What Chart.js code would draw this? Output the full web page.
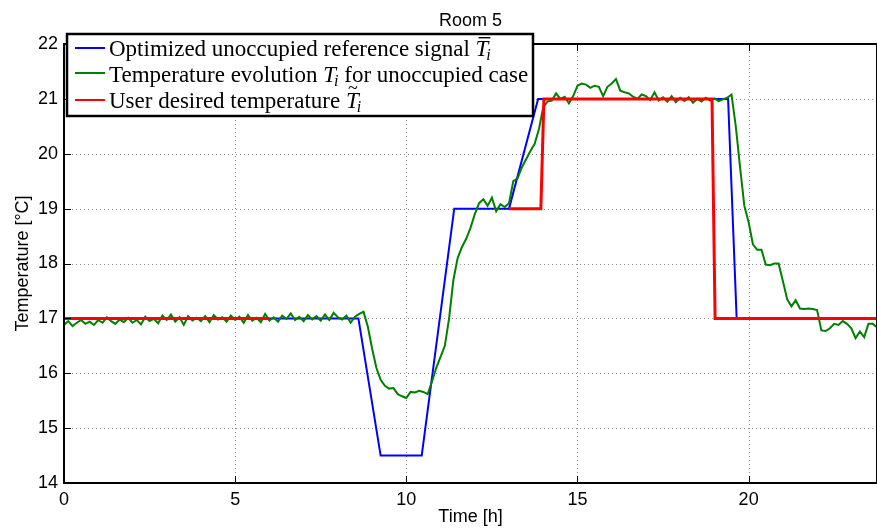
<!DOCTYPE html>
<html>
<head>
<meta charset="utf-8">
<script src="https://cdn.jsdelivr.net/npm/chart.js@4.4.0/dist/chart.umd.min.js"></script>
<style>
  html, body { margin: 0; padding: 0; background: #fff; }
</style>
</head>
<body>
<canvas id="roomChart" width="877" height="531"></canvas>
<script>
// Room 5 – temperature vs time
const timeStep = 0.125; // hours between samples of the measured curve

// measured temperature, unoccupied case (green)
const measuredTemp = [
  16.88, 16.95, 16.86, 16.92, 16.97, 16.90, 16.94, 16.88,
  16.97, 16.92, 17.02, 16.95, 16.90, 16.98, 16.93, 17.01,
  16.92, 16.97, 16.89, 17.03, 16.95, 16.99, 16.91, 17.05,
  16.97, 17.07, 16.94, 17.02, 16.88, 17.04, 16.96, 17.01,
  16.95, 17.04, 16.93, 17.06, 16.98, 17.02, 16.94, 17.05,
  16.97, 17.03, 16.92, 17.06, 16.96, 17.01, 16.93, 17.08,
  16.96, 17.02, 16.94, 17.05, 16.99, 17.09, 16.97, 17.03,
  16.95, 17.06, 16.98, 17.04, 16.96, 17.07, 16.97, 17.10,
  17.02, 16.98, 17.05, 16.92, 17.03, 17.08, 17.12, 16.85,
  16.45, 16.10, 15.88, 15.77, 15.72, 15.73, 15.62, 15.58,
  15.55, 15.66, 15.65, 15.68, 15.66, 15.62, 15.85, 16.10,
  16.30, 16.50, 17.00, 17.70, 18.10, 18.30, 18.45, 18.65,
  18.90, 19.10, 19.17, 19.05, 19.20, 18.95, 19.08, 19.03,
  19.10, 19.50, 19.55, 19.75, 19.90, 20.05, 20.18, 20.45,
  20.85, 20.95, 20.97, 21.10, 21.00, 21.04, 20.92, 21.05,
  21.24, 21.28, 21.26, 21.20, 21.24, 21.22, 21.05, 21.22,
  21.28, 21.36, 21.15, 21.12, 21.10, 21.04, 21.00, 21.08,
  21.05, 20.98, 21.12, 20.97, 21.03, 20.95, 21.05, 20.94,
  21.02, 20.96, 21.03, 20.93, 21.00, 20.95, 21.02, 20.97,
  21.01, 20.96, 20.99, 21.02, 21.08, 20.50, 19.75, 19.05,
  18.75, 18.35, 18.25, 18.25, 17.98, 17.97, 18.00, 18.00,
  17.68, 17.35, 17.22, 17.33, 17.18, 17.17, 17.18, 17.17,
  17.15, 16.78, 16.77, 16.82, 16.90, 16.88, 16.95, 16.90,
  16.82, 16.64, 16.76, 16.66, 16.90, 16.90, 16.84
];

// optimized reference signal (blue)
const refTime = [0, 8.6, 9.25, 10.45, 11.4, 13.0, 13.85, 19.4, 19.65];
const refTemp = [17, 17, 14.5, 14.5, 19, 19, 21, 21, 17];

// user desired temperature (red), null = no request
const userTime = [0, 6, 9, 13, 13.93, 14.02, 18.93, 19.02, 23.75];
const userTemp = [17, 17, null, 19, 19, 21, 21, 17, 17];

const xTicks = [0, 5, 10, 15, 20];
const yTicks = [14, 15, 16, 17, 18, 19, 20, 21, 22];
const xMax = 23.75;

const toPoints = (xs, ys) => xs.map((v, i) => ({ x: v, y: ys[i] }));
const measuredPoints = measuredTemp.map((v, i) => ({ x: i * timeStep, y: v }));

const serif = '"Liberation Serif"';

// draws italic T with accent and subscript i, returns new x
function mathT(ctx, x, base, accent) {
  ctx.font = 'italic 23px ' + serif;
  ctx.fillText('T', x, base);
  const w = ctx.measureText('T').width;
  if (accent === 'bar') {
    ctx.fillRect(x + 3, base - 19, w - 1, 1.4);
  } else if (accent === 'tilde') {
    ctx.font = '18px ' + serif;
    ctx.fillText('~', x + 2, base - 14);
  }
  ctx.font = 'italic 16px ' + serif;
  ctx.fillText('i', x + w - 2, base + 4);
  return x + w - 2 + ctx.measureText('i').width;
}

const frame = {
  id: 'frame',
  beforeDatasetsDraw(chart) {
    const { ctx, chartArea: a, scales: { x, y } } = chart;
    ctx.save();
    ctx.strokeStyle = '#8c8c8c';
    ctx.lineWidth = 1;
    ctx.setLineDash([1, 3]);
    xTicks.forEach(t => {
      if (t <= 0 || t >= xMax) return;
      const px = Math.round(x.getPixelForValue(t)) + 0.5;
      ctx.beginPath(); ctx.moveTo(px, a.top); ctx.lineTo(px, a.bottom); ctx.stroke();
    });
    yTicks.forEach(t => {
      if (t <= 14 || t >= 22) return;
      const py = Math.round(y.getPixelForValue(t)) + 0.5;
      ctx.beginPath(); ctx.moveTo(a.left, py); ctx.lineTo(a.right, py); ctx.stroke();
    });
    ctx.restore();
  },
  afterDraw(chart) {
    const { ctx, chartArea: a, scales: { x, y } } = chart;
    ctx.save();
    // box
    ctx.strokeStyle = '#000';
    ctx.lineWidth = 2;
    ctx.strokeRect(a.left, a.top, a.right - a.left, a.bottom - a.top);
    // inward ticks
    ctx.lineWidth = 1;
    xTicks.forEach(t => {
      const px = Math.round(x.getPixelForValue(t)) + 0.5;
      ctx.beginPath();
      ctx.moveTo(px, a.bottom); ctx.lineTo(px, a.bottom - 7);
      ctx.moveTo(px, a.top); ctx.lineTo(px, a.top + 7);
      ctx.stroke();
    });
    yTicks.forEach(t => {
      const py = Math.round(y.getPixelForValue(t)) + 0.5;
      ctx.beginPath();
      ctx.moveTo(a.left, py); ctx.lineTo(a.left + 7, py);
      ctx.stroke();
    });

    // title
    ctx.fillStyle = '#000';
    ctx.font = '18px "Liberation Sans"';
    ctx.textAlign = 'center';
    ctx.textBaseline = 'alphabetic';
    ctx.fillText('Room 5', (a.left + a.right) / 2, 26);

    // legend
    ctx.textAlign = 'left';
    ctx.fillStyle = '#fff';
    ctx.fillRect(67, 34, 466, 82);
    ctx.lineWidth = 2.5;
    ctx.strokeRect(67, 34, 466, 82);
    const rows = [
      { color: '#0000ff', y: 48, base: 56 },
      { color: '#008000', y: 73, base: 82 },
      { color: '#ff0000', y: 100, base: 108 }
    ];
    rows.forEach(r => {
      ctx.strokeStyle = r.color;
      ctx.lineWidth = 2;
      ctx.beginPath(); ctx.moveTo(75, r.y); ctx.lineTo(105, r.y); ctx.stroke();
    });
    ctx.fillStyle = '#000';
    const body = '23px ' + serif;
    let tx;
    ctx.font = body;
    ctx.fillText('Optimized unoccupied reference signal ', 109, rows[0].base);
    tx = 109 + ctx.measureText('Optimized unoccupied reference signal ').width;
    mathT(ctx, tx, rows[0].base, 'bar');

    ctx.font = body;
    ctx.fillText('Temperature evolution ', 109, rows[1].base);
    tx = 109 + ctx.measureText('Temperature evolution ').width;
    tx = mathT(ctx, tx, rows[1].base, null);
    ctx.font = body;
    ctx.fillText(' for unoccupied case', tx, rows[1].base);

    ctx.fillText('User desired temperature ', 109, rows[2].base);
    tx = 109 + ctx.measureText('User desired temperature ').width;
    mathT(ctx, tx, rows[2].base, 'tilde');
    ctx.restore();
  }
};

new Chart(document.getElementById('roomChart'), {
  type: 'line',
  data: {
    datasets: [
      {
        label: 'User desired temperature',
        data: toPoints(userTime, userTemp),
        borderColor: '#ff0000',
        borderWidth: 3,
        spanGaps: false
      },
      {
        label: 'Temperature evolution for unoccupied case',
        data: measuredPoints,
        borderColor: '#008000',
        borderWidth: 2
      },
      {
        label: 'Optimized unoccupied reference signal',
        data: toPoints(refTime, refTemp),
        borderColor: '#0000ff',
        borderWidth: 2
      }
    ]
  },
  options: {
    responsive: false,
    animation: false,
    devicePixelRatio: 1,
    layout: { padding: { top: 44, right: 0, left: 0, bottom: 0 } },
    elements: { point: { radius: 0 }, line: { tension: 0 } },
    plugins: { legend: { display: false }, tooltip: { enabled: false }, title: { display: false } },
    scales: {
      x: {
        type: 'linear',
        min: 0,
        max: xMax,
        afterBuildTicks: s => { s.ticks = xTicks.map(v => ({ value: v })); },
        afterFit: s => { s.height = 48; },
        grid: { display: false, drawTicks: false },
        border: { display: false },
        ticks: { color: '#000', padding: 6, font: { family: 'Liberation Sans', size: 18 } },
        title: {
          display: true, text: 'Time [h]', color: '#000',
          font: { family: 'Liberation Sans', size: 18 },
          padding: { top: 0, bottom: 3 }
        }
      },
      y: {
        min: 14,
        max: 22,
        afterBuildTicks: s => { s.ticks = yTicks.map(v => ({ value: v })); },
        afterFit: s => { s.width = 64; },
        grid: { display: false, drawTicks: false },
        border: { display: false },
        ticks: { color: '#000', padding: 6, font: { family: 'Liberation Sans', size: 18 } },
        title: {
          display: true, text: 'Temperature [°C]', color: '#000',
          font: { family: 'Liberation Sans', size: 18 },
          padding: { top: 12, bottom: 0 }
        }
      }
    }
  },
  plugins: [frame]
});
</script>
</body>
</html>
